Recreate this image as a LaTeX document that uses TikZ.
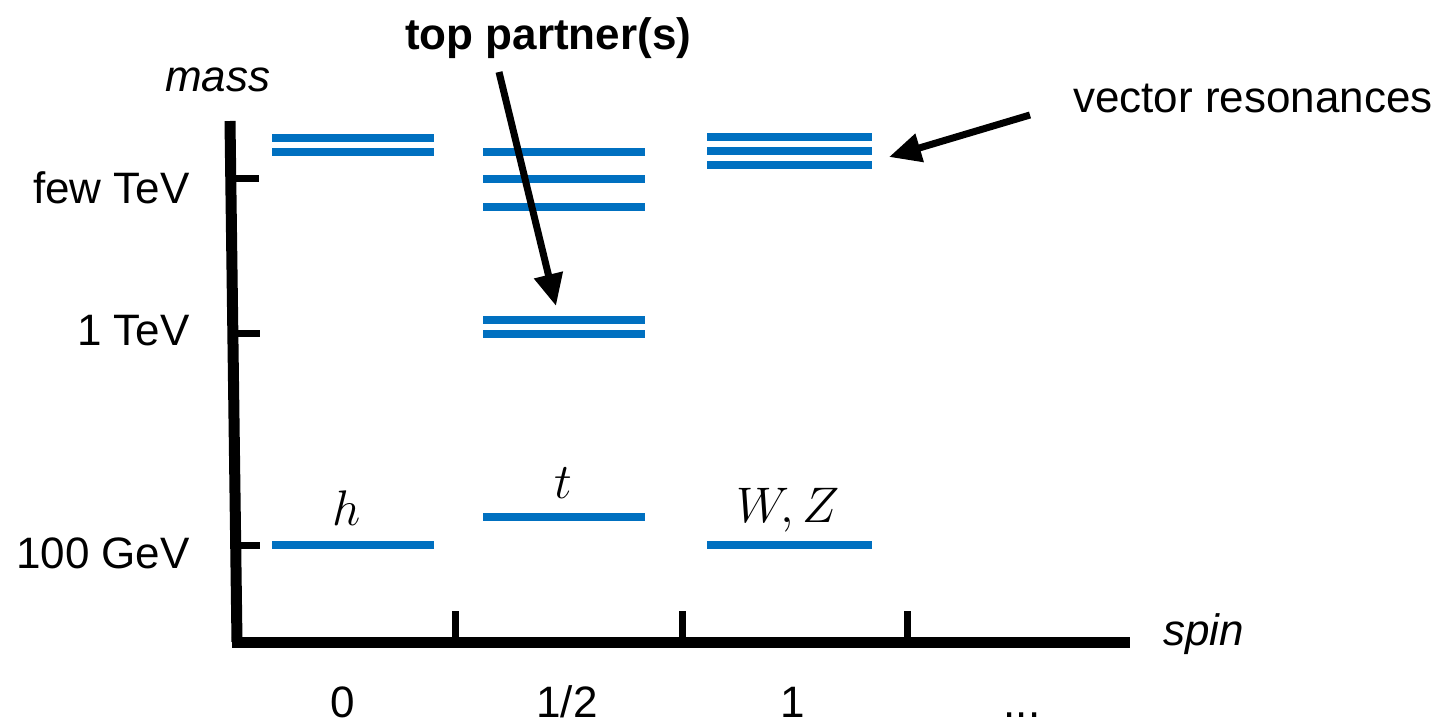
\RequirePackage{fix-cm}
\documentclass[tikz,border=0pt]{standalone}
\usepackage{fontspec}
\setmainfont{Liberation Sans}
\usetikzlibrary{arrows.meta}
\definecolor{lvlblue}{RGB}{0,112,192}
\begin{document}
\begin{tikzpicture}[x=1pt,y=-1pt,
  lvl/.style={draw=lvlblue,line width=7.5pt},
  axisline/.style={draw=black,line width=11pt},
  tick/.style={draw=black,line width=7pt},
  lbl/.style={font=\fontsize{44}{52}\selectfont,inner sep=0pt},
  mlbl/.style={font=\fontsize{50}{60}\selectfont,inner sep=0pt},
  bigarrow/.style={draw=black,line width=7pt,-{Triangle[length=32pt,width=28pt]}}]
\useasboundingbox (0,0) rectangle (1438,725);
% axes
\coordinate (ytop) at (230,121);
\coordinate (orig) at (237,642);
\coordinate (xend) at (1130,642);
\draw[axisline] (ytop) -- (orig);
\draw[axisline] ([xshift=-5.5pt]orig) -- (xend);
% y ticks
\draw[tick] (232,178) -- (259,178);
\draw[tick] (235,333) -- (260,333);
\draw[tick] (236,545) -- (260,545);
% x ticks
\draw[tick] (455,642) -- (455,611);
\draw[tick] (682,642) -- (682,611);
\draw[tick] (907,642) -- (907,611);
% labels
\node[lbl,anchor=base west] (mass) at (165,92) {\itshape mass};
\node[lbl,anchor=base east] (fewtev) at (190,203) {few TeV};
\node[lbl,anchor=base east] (onetev) at (190,345) {1 TeV};
\node[lbl,anchor=base east] (hgev) at (190,568) {100 GeV};
\node[lbl,anchor=base west] (spin) at (1163,645) {\itshape spin};
\node[lbl,anchor=base] (s0) at (343,717) {0};
\node[lbl,anchor=base] (s12) at (567,717) {1/2};
\node[lbl,anchor=base] (s1) at (793,717) {1};
\node[lbl,anchor=base] (sdots) at (1022,717) {...};
% spin 0
\draw[lvl] (272,138) -- (434,138);
\draw[lvl] (272,152) -- (434,152);
\draw[lvl] (272,545) -- (434,545);
\node[mlbl,anchor=base] (hl) at (347,525) {$h$};
% spin 1/2
\draw[lvl] (483,152) -- (645,152);
\draw[lvl] (483,179) -- (645,179);
\draw[lvl] (483,207) -- (645,207);
\draw[lvl] (483,320) -- (645,320);
\draw[lvl] (483,334) -- (645,334);
\draw[lvl] (483,517) -- (645,517);
\node[mlbl,anchor=base] (tl) at (563,498) {$t$};
% spin 1
\draw[lvl] (707,137) -- (872,137);
\draw[lvl] (707,151) -- (872,151);
\draw[lvl] (707,165) -- (872,165);
\draw[lvl] (707,545) -- (872,545);
\node[mlbl,anchor=base] (wzl) at (788,522) {$W,Z$};
% annotations
\node[lbl,anchor=base west,font=\fontsize{44}{52}\selectfont\bfseries] (tp) at (405,50) {top partner(s)};
\node[lbl,anchor=base west] (vr) at (1073,113) {vector resonances};
\coordinate (tpstart) at (499,72);
\coordinate (tptip) at (556,306);
\coordinate (vrstart) at (1030,115);
\coordinate (vrtip) at (889,157);
\draw[bigarrow] (tpstart) -- (tptip);
\draw[bigarrow] (vrstart) -- (vrtip);
\end{tikzpicture}
\end{document}
